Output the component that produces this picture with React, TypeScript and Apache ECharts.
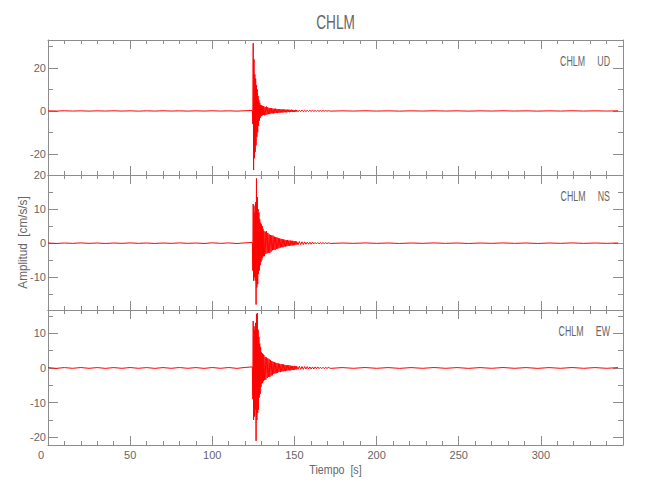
import React, { useEffect, useRef } from "react";
import * as echarts from "echarts";

// ---------- data ----------
const stationName = "CHLM";
const componentNames = ["UD", "NS", "EW"];
const timeTicks = [0, 50, 100, 150, 200, 250, 300];
const timeMin = 0;
const timeMax = 350;

// sampling grids of the trace segments (seconds)
const beforeStart = 0;
const beforeStep = 5;
const strongStart = 124.4;
const strongStep = 0.25;
const codaAStart = 131.4;
const codaAStep = 0.4;
const codaBStart = 151.4;
const codaBStep = 0.8;
const afterStart = 172;
const afterStep = 7;

// UD component (cm/s/s)
const udBefore = [0.05, -0.05, 0.08, -0.05, 0.05, -0.08, 0.05, -0.05, 0.08, -0.05, 0.05, -0.08, 0.05, -0.05, 0.08, -0.05, 0.05, -0.08, 0.05, -0.05, 0.08, -0.05, 0.05, -0.08, 0.1];
const udStrong = [0.2, -6, 31.5, -27.5, 24, -22, 17, -19, 15, -16, 12, -12, 10, -10, 7, -7, 5, -4.5, 3.8, -3.2, 2.8, -2.5, 2.6, -2.2, 2.4, -2.0, 2.2, -1.9];
const udCodaA = [
  2.2, -2.0, 1.8, -1.9, 2.0, -1.6, 1.7, -1.5, 1.4, -1.5,
  1.3, -1.2, 1.3, -1.1, 1.1, -1.2, 1.0, -1.0, 1.1, -0.9,
  0.9, -1.0, 0.8, -0.9, 0.8, -0.8, 0.8, -0.7, 0.7, -0.8,
  0.7, -0.6, 0.7, -0.6, 0.6, -0.7, 0.6, -0.5, 0.6, -0.6,
  0.5, -0.5, 0.6, -0.5, 0.5, -0.5, 0.4, -0.5, 0.5, -0.4,
];
const udCodaB = [0.4, -0.4, 0.4, -0.3, 0.4, -0.3, 0.3, -0.3, 0.3, -0.3, 0.3, -0.2, 0.3, -0.2, 0.2, -0.2, 0.2, -0.2, 0.2, -0.15, 0.15, -0.1, 0.15, -0.1, 0.1];
const udAfter = [-0.08, 0.05, -0.05, 0.08, -0.05, 0.05, -0.08, 0.05, -0.05, 0.08, -0.05, 0.05, -0.08, 0.05, -0.05, 0.08, -0.05, 0.05, -0.08, 0.05, -0.05, 0.08, -0.05, 0.05, -0.05, 0.05];

// NS component (cm/s/s)
const nsBefore = [0.05, -0.08, 0.05, -0.05, 0.08, -0.05, 0.05, -0.08, 0.05, -0.05, 0.08, -0.05, 0.05, -0.08, 0.05, -0.05, 0.08, -0.05, 0.05, -0.08, 0.1, -0.05, 0.08, -0.1, 0.1];
const nsStrong = [0.2, -8, 11.5, -11, 11, -10, 9, -11, 12, -18, 19, -13, 13.5, -12, 10, -9, 9, -8, 7, -6.5, 6, -5.5, 5.5, -5, 5, -4.2, 4.2, -3.8];
const nsCodaA = [
  3.6, -3.8, 3.4, -3.2, 3.5, -3.0, 3.0, -2.8, 2.6, -2.9,
  2.4, -2.5, 2.3, -2.1, 2.2, -2.0, 1.9, -2.0, 1.8, -1.7,
  1.7, -1.6, 1.5, -1.5, 1.4, -1.3, 1.3, -1.2, 1.2, -1.2,
  1.1, -1.0, 1.0, -1.0, 0.9, -0.9, 0.9, -0.8, 0.8, -0.8,
  0.8, -0.7, 0.7, -0.7, 0.7, -0.6, 0.6, -0.6, 0.6, -0.5,
];
const nsCodaB = [0.5, -0.5, 0.5, -0.4, 0.4, -0.4, 0.4, -0.3, 0.3, -0.3, 0.3, -0.3, 0.3, -0.2, 0.2, -0.2, 0.2, -0.2, 0.2, -0.15, 0.15, -0.1, 0.1, -0.1, 0.1];
const nsAfter = [-0.08, 0.05, -0.05, 0.08, -0.05, 0.05, -0.08, 0.05, -0.05, 0.08, -0.05, 0.05, -0.08, 0.05, -0.05, 0.08, -0.05, 0.05, -0.08, 0.05, -0.05, 0.08, -0.05, 0.05, -0.05, 0.05];

// EW component (cm/s/s)
const ewBefore = [0.1, -0.12, 0.1, -0.1, 0.12, -0.1, 0.1, -0.12, 0.1, -0.1, 0.12, -0.1, 0.1, -0.12, 0.1, -0.1, 0.12, -0.1, 0.1, -0.12, 0.12, -0.1, 0.12, -0.12, 0.15];
const ewStrong = [0.3, -9, 13.5, -15, 12, -14, 11, -12, 13, -21, 15.5, -15, 15.8, -13, 11, -12, 9, -8.5, 7, -7.5, 6, -5.5, 4.5, -4.5, 4.2, -4.3, 4, -3.8];
const ewCodaA = [
  3.7, -3.5, 3.2, -3.4, 3.0, -2.9, 2.8, -2.6, 2.5, -2.6,
  2.3, -2.2, 2.0, -2.1, 1.8, -1.7, 1.7, -1.6, 1.5, -1.5,
  1.4, -1.4, 1.3, -1.2, 1.2, -1.2, 1.1, -1.0, 1.1, -1.0,
  1.0, -0.9, 0.9, -0.9, 0.8, -0.8, 0.8, -0.7, 0.8, -0.7,
  0.7, -0.7, 0.6, -0.6, 0.6, -0.6, 0.6, -0.5, 0.5, -0.5,
];
const ewCodaB = [0.5, -0.4, 0.5, -0.4, 0.4, -0.4, 0.4, -0.3, 0.4, -0.3, 0.3, -0.3, 0.3, -0.3, 0.3, -0.2, 0.3, -0.2, 0.2, -0.2, 0.2, -0.2, 0.2, -0.15, 0.15];
const ewAfter = [-0.12, 0.1, -0.1, 0.12, -0.1, 0.1, -0.12, 0.1, -0.1, 0.12, -0.1, 0.1, -0.12, 0.1, -0.1, 0.12, -0.1, 0.1, -0.12, 0.1, -0.1, 0.12, -0.1, 0.1, -0.1, 0.1];

// amplitude axes
const yMins = [-29.8, -19.6, -22.2];
const yMaxs = [33, 20, 16.7];
const yLabelTicks = [[-20, 0, 20], [-10, 0, 10, 20], [-20, -10, 0, 10]];
const yMinorTicks = [[-10, 10, 30], [-15, -5, 5, 15], [-15, -5, 5, 15]];

// ---------- styling ----------
const FONT = "'Liberation Sans', Arial, sans-serif";
const TEXT = "#666";
const AXIS = "#8c8c8c";
const PLOT_LEFT = 48;
const PLOT_WIDTH = 575;
const PANEL_TOPS = [40, 175, 310];
const PANEL_HEIGHT = 135;

function segment(start: number, step: number, values: number[]): number[][] {
  return values.map((v, i) => [start + i * step, v]);
}

function trace(before: number[], strong: number[], codaA: number[], codaB: number[], after: number[]) {
  return [
    ...segment(beforeStart, beforeStep, before),
    ...segment(strongStart, strongStep, strong),
    ...segment(codaAStart, codaAStep, codaA),
    ...segment(codaBStart, codaBStep, codaB),
    ...segment(afterStart, afterStep, after),
  ];
}

const traces = [
  trace(udBefore, udStrong, udCodaA, udCodaB, udAfter),
  trace(nsBefore, nsStrong, nsCodaA, nsCodaB, nsAfter),
  trace(ewBefore, ewStrong, ewCodaA, ewCodaB, ewAfter),
];

function buildOption() {
  const grid = PANEL_TOPS.map((top) => ({
    left: PLOT_LEFT,
    width: PLOT_WIDTH,
    top,
    height: PANEL_HEIGHT,
    containLabel: false,
  }));

  const xAxis: any[] = [];
  const yAxis: any[] = [];
  PANEL_TOPS.forEach((_, i) => {
    (["bottom", "top"] as const).forEach((pos) => {
      const labelled = i === 2 && pos === "bottom";
      xAxis.push({
        gridIndex: i,
        type: "value",
        position: pos,
        min: timeMin,
        max: timeMax,
        interval: 50,
        axisLine: { show: true, onZero: false, lineStyle: { color: AXIS, width: 1 } },
        axisTick: { show: true, inside: true, length: 9, lineStyle: { color: AXIS } },
        minorTick: { show: true, splitNumber: 5, length: 4, lineStyle: { color: AXIS } },
        splitLine: { show: false },
        minorSplitLine: { show: false },
        axisLabel: labelled
          ? {
              show: true,
              showMaxLabel: false,
              margin: 4,
              color: TEXT,
              fontSize: 11,
              fontFamily: FONT,
              formatter: (v: number) =>
                timeTicks.includes(v) ? (v === 0 ? "{z|0}" : String(v)) : "",
              rich: { z: { padding: [0, 14, 0, 0], color: TEXT, fontSize: 11, fontFamily: FONT } },
            }
          : { show: false },
      });
    });
    (["left", "right"] as const).forEach((pos) => {
      yAxis.push({
        gridIndex: i,
        type: "value",
        position: pos,
        min: yMins[i],
        max: yMaxs[i],
        axisLine: { show: true, onZero: false, lineStyle: { color: AXIS, width: 1 } },
        axisTick: {
          show: true,
          inside: true,
          length: 10,
          customValues: yLabelTicks[i],
          lineStyle: { color: AXIS },
        },
        splitLine: { show: false },
        axisLabel:
          pos === "left"
            ? {
                show: true,
                customValues: yLabelTicks[i],
                margin: 2,
                color: TEXT,
                fontSize: 11,
                fontFamily: FONT,
              }
            : { show: false },
      });
      yAxis.push({
        gridIndex: i,
        type: "value",
        position: pos,
        min: yMins[i],
        max: yMaxs[i],
        axisLine: { show: false, onZero: false },
        axisTick: {
          show: true,
          inside: true,
          length: 5,
          customValues: yMinorTicks[i],
          lineStyle: { color: AXIS },
        },
        splitLine: { show: false },
        axisLabel: { show: false },
      });
    });
  });

  const series = traces.map((data, i) => ({
    type: "line",
    xAxisIndex: i * 2,
    yAxisIndex: i * 4,
    data,
    showSymbol: false,
    symbol: "none",
    silent: true,
    lineStyle: { color: "#ff0000", width: 1 },
    z: 1,
  }));

  const centerX = PLOT_LEFT + PLOT_WIDTH / 2;
  const graphic: any[] = [
    {
      type: "text",
      x: centerX,
      y: 22,
      scaleX: 0.65,
      style: { text: stationName, fill: TEXT, font: `21px ${FONT}`, align: "center", verticalAlign: "middle" },
    },
    {
      type: "text",
      x: centerX,
      y: 470,
      scaleX: 0.82,
      style: { text: "Tiempo  [s]", fill: TEXT, font: `13px ${FONT}`, align: "center", verticalAlign: "middle" },
    },
    {
      type: "text",
      x: 23,
      y: PANEL_TOPS[1] + PANEL_HEIGHT / 2,
      rotation: Math.PI / 2,
      scaleX: 0.9,
      style: { text: "Amplitud  [cm/s/s]", fill: TEXT, font: `13px ${FONT}`, align: "center", verticalAlign: "middle" },
    },
    ...componentNames.map((c, i) => ({
      type: "text",
      x: 610,
      y: PANEL_TOPS[i] + 21,
      scaleX: 0.63,
      style: { text: `${stationName}     ${c}`, fill: TEXT, font: `14px ${FONT}`, align: "right", verticalAlign: "middle" },
    })),
  ];

  return {
    animation: false,
    backgroundColor: "#ffffff",
    grid,
    xAxis,
    yAxis,
    series,
    graphic,
  };
}

export default function App() {
  const ref = useRef<HTMLDivElement>(null);
  useEffect(() => {
    document.body.style.margin = "0";
    if (!ref.current) return;
    const chart = echarts.init(ref.current, undefined, { renderer: "svg" });
    chart.setOption(buildOption() as any);
    return () => chart.dispose();
  }, []);
  return <div ref={ref} style={{ width: 650, height: 500 }} />;
}
